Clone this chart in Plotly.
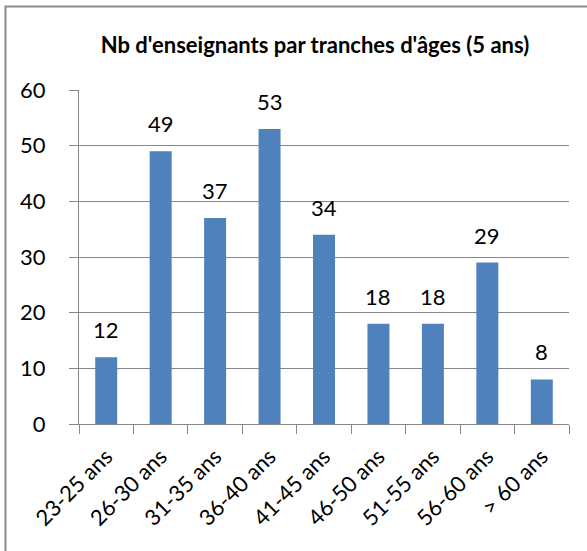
import plotly.graph_objects as go

categories = ["23-25 ans", "26-30 ans", "31-35 ans", "36-40 ans", "41-45 ans",
              "46-50 ans", "51-55 ans", "56-60 ans", "> 60 ans"]
values = [12, 49, 37, 53, 34, 18, 18, 29, 8]
title = "Nb d'enseignants par tranches d'âges (5 ans)"

FONT = "Lato, Open Sans, sans-serif"
W, H = 587, 551
L, R, T, B = 79, 18, 90, 127
pw, ph = W - L - R, H - T - B

def px_x(x):
    return (x - L) / pw

def px_y(y):
    return (H - B - y) / ph

fig = go.Figure(go.Bar(
    x=categories, y=values,
    marker=dict(color="#4F81BD", line=dict(width=0)),
    cliponaxis=False,
))

annotations = [
    dict(x=c, y=v, xref="x", yref="y", text=str(v), showarrow=False,
         yanchor="bottom", yshift=12, font=dict(size=22, color="black", family=FONT))
    for c, v in zip(categories, values)
]

border = dict(color="#8c8c8c", width=2)
fig.update_layout(
    width=W, height=H,
    margin=dict(l=L, r=R, t=T, b=B, autoexpand=False),
    paper_bgcolor="white", plot_bgcolor="white",
    showlegend=False,
    bargap=0.596,
    font=dict(family=FONT, color="black"),
    title=dict(text="<b>" + title + "</b>", x=315 / W, xanchor="center",
               y=1 - 45 / H, yanchor="middle",
               font=dict(size=22, color="black", family=FONT)),
    annotations=annotations,
    shapes=[
        dict(type="rect", xref="paper", yref="paper",
             x0=px_x(5.5), x1=px_x(620), y0=px_y(620), y1=px_y(6.5),
             line=border, fillcolor="rgba(0,0,0,0)", layer="above"),
    ],
)

fig.update_xaxes(
    showline=True, linecolor="#868686", linewidth=1,
    ticks="outside", tickson="boundaries", ticklen=9, tickcolor="#868686",
    tickangle=-45, tickfont=dict(size=22, color="black"), ticklabelstandoff=10,
    showgrid=False, zeroline=False, automargin=False,
)
fig.update_yaxes(
    range=[0, 60], dtick=10, tick0=0,
    showline=True, linecolor="#868686", linewidth=1,
    ticks="outside", ticklen=9, tickcolor="#868686",
    tickfont=dict(size=22, color="black"), ticklabelstandoff=19,
    showgrid=True, gridcolor="#868686", gridwidth=1, zeroline=False, automargin=False,
)

fig.write_html("out.html", config={"displayModeBar": False},
               post_script="document.body.style.margin='0';document.body.style.overflow='hidden';")
